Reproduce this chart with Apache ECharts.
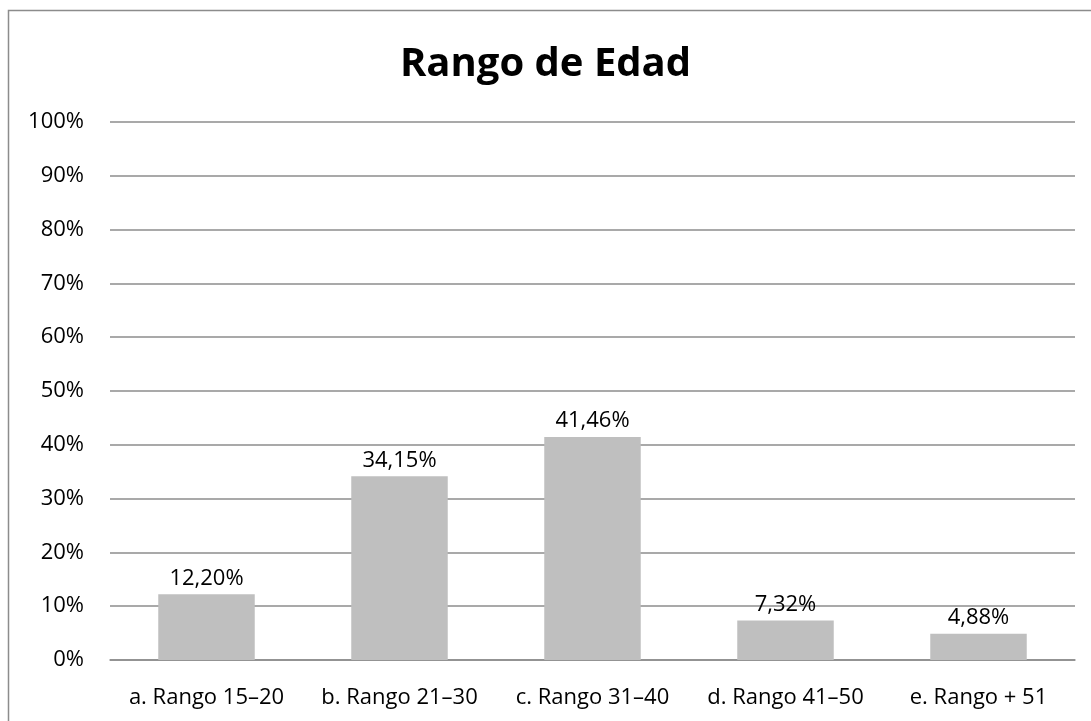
<!DOCTYPE html>
<html>
<head>
<meta charset="utf-8">
<script src="https://cdn.jsdelivr.net/npm/echarts@6/dist/echarts.min.js"></script>
<style>
  html, body { margin: 0; padding: 0; background: #fff; }
  #main { width: 1091px; height: 721px; }
</style>
</head>
<body>
<div id="main"></div>
<script>
// datos del gráfico
var categorias = ['a. Rango 15–20', 'b. Rango 21–30', 'c. Rango 31–40', 'd. Rango 41–50', 'e. Rango + 51'];
var valores = [12.20, 34.15, 41.46, 7.32, 4.88];
var tituloTexto = 'Rango de Edad';

var fuente = '"Open Sans", "Noto Sans", sans-serif';

var myChart = echarts.init(document.getElementById('main'));
var option = {
    animation: false,
    backgroundColor: '#fff',
    title: {
        text: tituloTexto,
        left: 'center',
        top: 40,
        textStyle: {
            fontFamily: fuente,
            fontSize: 40,
            fontWeight: 'bold',
            color: '#000'
        }
    },
    graphic: [{
        type: 'rect',
        shape: { x: 8.5, y: 10.5, width: 1200, height: 900 },
        style: { fill: 'none', stroke: '#8c8c8c', lineWidth: 1.5 },
        silent: true
    }],
    grid: {
        left: 110,
        right: 16,
        top: 122,
        bottom: 61
    },
    xAxis: {
        type: 'category',
        data: categorias,
        axisLine: { show: true, lineStyle: { color: '#8c8c8c', width: 1.5 } },
        axisTick: { show: false },
        axisLabel: {
            interval: 0,
            margin: 27,
            fontFamily: fuente,
            fontSize: 22,
            color: '#000'
        }
    },
    yAxis: {
        type: 'value',
        min: 0,
        max: 100,
        interval: 10,
        axisLine: { show: false },
        axisTick: { show: false },
        axisLabel: {
            margin: 26,
            fontFamily: fuente,
            fontSize: 22,
            color: '#000',
            formatter: '{value}%'
        },
        splitLine: { lineStyle: { color: '#8c8c8c', width: 1.5 } }
    },
    series: [{
        type: 'bar',
        data: valores,
        barCategoryGap: '50%',
        itemStyle: { color: '#bfbfbf' },
        label: {
            show: true,
            position: 'top',
            distance: 5,
            fontFamily: fuente,
            fontSize: 22,
            color: '#000',
            formatter: function (p) {
                return p.value.toFixed(2).replace('.', ',') + '%';
            }
        }
    }]
};
myChart.setOption(option);
</script>
</body>
</html>
